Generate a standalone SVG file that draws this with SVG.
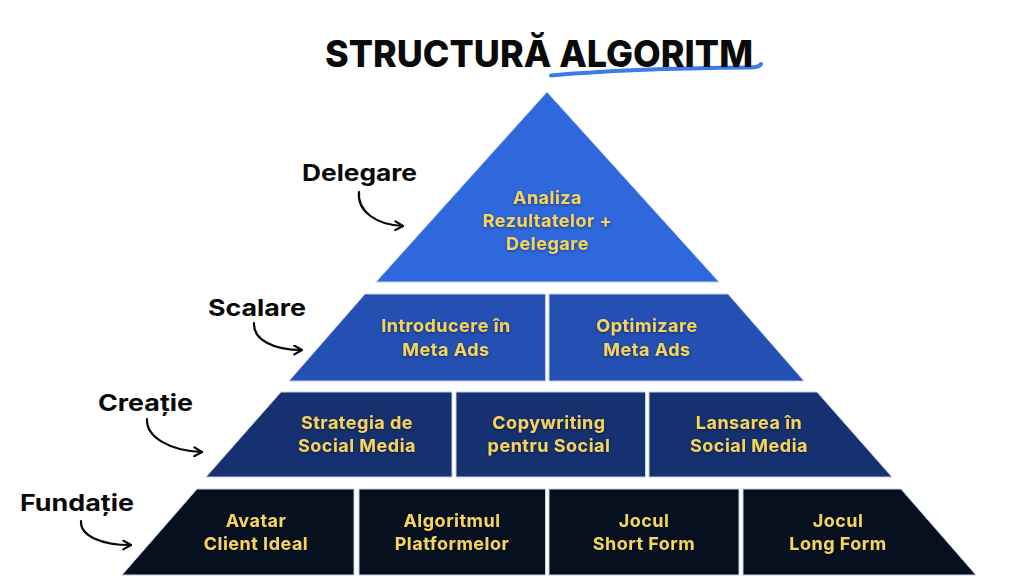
<svg xmlns="http://www.w3.org/2000/svg" width="1024" height="579" viewBox="0 0 1024 579">
  <style>
    .title { font-family: "Inter", "Liberation Sans", sans-serif; font-weight: 800; font-size: 37px; fill: #0a0a0a; }
    .side { font-family: "Inter", "Liberation Sans", sans-serif; font-weight: 700; font-size: 23px; fill: #0a0a0a; }
    .cell { font-family: "Inter", "Liberation Sans", sans-serif; font-weight: 700; font-size: 18px; letter-spacing: 0.5px; fill: #f5d35c; text-anchor: middle; filter: url(#glow); }
    .shape { stroke: #c3cfea; stroke-width: 1; }
    .l1 { fill: #2f68dc; }
    .l2 { fill: #2450b3; }
    .l3 { fill: #15316f; }
    .l4 { fill: #06101f; }
    .arrow { fill: none; stroke: #0a0a0a; stroke-width: 2.2; stroke-linecap: round; }
  </style>
  <defs>
    <marker id="head" viewBox="0 0 10 10" refX="8.5" refY="5" markerWidth="11" markerHeight="11" markerUnits="userSpaceOnUse" orient="auto">
      <path d="M1.5,1 L8.5,5 L1.5,9" fill="none" stroke="#0a0a0a" stroke-width="2" stroke-linecap="round" stroke-linejoin="round"/>
    </marker>
    <filter id="glow" x="-20%" y="-40%" width="140%" height="180%">
      <feDropShadow dx="0" dy="1" stdDeviation="1.5" flood-color="#000000" flood-opacity="0.45"/>
    </filter>
  </defs>
  <rect width="1024" height="579" fill="#ffffff"/>

  <g id="title">
    <path d="M551,75.5 C610,70 690,68 750,67.5 C756,67.5 760,66 761,64" fill="none" stroke="#3d7be9" stroke-width="4" stroke-linecap="round"/>
    <text class="title" x="325" y="66.5" textLength="428" lengthAdjust="spacingAndGlyphs">STRUCTURĂ ALGORITM</text>
  </g>

  <g id="level-delegare">
    <polygon class="shape l1" points="547,92 719,282 376,282"/>
    <text class="cell" x="547.5" y="204"><tspan x="547.5">Analiza</tspan><tspan x="547.5" dy="23">Rezultatelor +</tspan><tspan x="547.5" dy="23">Delegare</tspan></text>
  </g>

  <g id="node-introducere-meta-ads">
    <polygon class="shape l2" points="365,294 545.5,294 545.5,381 289,381"/>
    <text class="cell" x="446" y="332"><tspan x="446">Introducere în</tspan><tspan x="446" dy="24">Meta Ads</tspan></text>
  </g>
  <g id="node-optimizare-meta-ads">
    <polygon class="shape l2" points="549,294 728,294 804,381 549,381"/>
    <text class="cell" x="647" y="332"><tspan x="647">Optimizare</tspan><tspan x="647" dy="24">Meta Ads</tspan></text>
  </g>

  <g id="node-strategia">
    <polygon class="shape l3" points="281,392 452,392 452,477 206,477"/>
    <text class="cell" x="357" y="429"><tspan x="357">Strategia de</tspan><tspan x="357" dy="23">Social Media</tspan></text>
  </g>
  <g id="node-copywriting">
    <polygon class="shape l3" points="456,392 645.5,392 645.5,477 456,477"/>
    <text class="cell" x="549" y="429"><tspan x="549">Copywriting</tspan><tspan x="549" dy="23">pentru Social</tspan></text>
  </g>
  <g id="node-lansarea">
    <polygon class="shape l3" points="649,392 817,392 892,477 649,477"/>
    <text class="cell" x="749" y="429"><tspan x="749">Lansarea în</tspan><tspan x="749" dy="23">Social Media</tspan></text>
  </g>

  <g id="node-avatar">
    <polygon class="shape l4" points="197,489 354,489 354,575 122,575"/>
    <text class="cell" x="256" y="527"><tspan x="256">Avatar</tspan><tspan x="256" dy="23">Client Ideal</tspan></text>
  </g>
  <g id="node-algoritmul">
    <polygon class="shape l4" points="359,489 545.5,489 545.5,575 359,575"/>
    <text class="cell" x="452" y="527"><tspan x="452">Algoritmul</tspan><tspan x="452" dy="23">Platformelor</tspan></text>
  </g>
  <g id="node-short-form">
    <polygon class="shape l4" points="549,489 739,489 739,575 549,575"/>
    <text class="cell" x="644" y="527"><tspan x="644">Jocul</tspan><tspan x="644" dy="23">Short Form</tspan></text>
  </g>
  <g id="node-long-form">
    <polygon class="shape l4" points="743,489 901,489 976,575 743,575"/>
    <text class="cell" x="838" y="527"><tspan x="838">Jocul</tspan><tspan x="838" dy="23">Long Form</tspan></text>
  </g>

  <g id="labels">
    <text class="side" x="302" y="180.5" textLength="115" lengthAdjust="spacingAndGlyphs">Delegare</text>
    <text class="side" x="208" y="315.5" textLength="98" lengthAdjust="spacingAndGlyphs">Scalare</text>
    <text class="side" x="98" y="410.5" textLength="95" lengthAdjust="spacingAndGlyphs">Creație</text>
    <text class="side" x="20" y="510.5" textLength="114" lengthAdjust="spacingAndGlyphs">Fundație</text>
  </g>

  <g id="connectors">
    <path class="arrow" marker-end="url(#head)" d="M359,192 C357,211 376,225 403,226"/>
    <path class="arrow" marker-end="url(#head)" d="M254,323 C253,339 272,350 302,350"/>
    <path class="arrow" marker-end="url(#head)" d="M147,419 C146,437 170,451 202,452"/>
    <path class="arrow" marker-end="url(#head)" d="M81,521 C80,536 102,545 131,545"/>
  </g>
</svg>
